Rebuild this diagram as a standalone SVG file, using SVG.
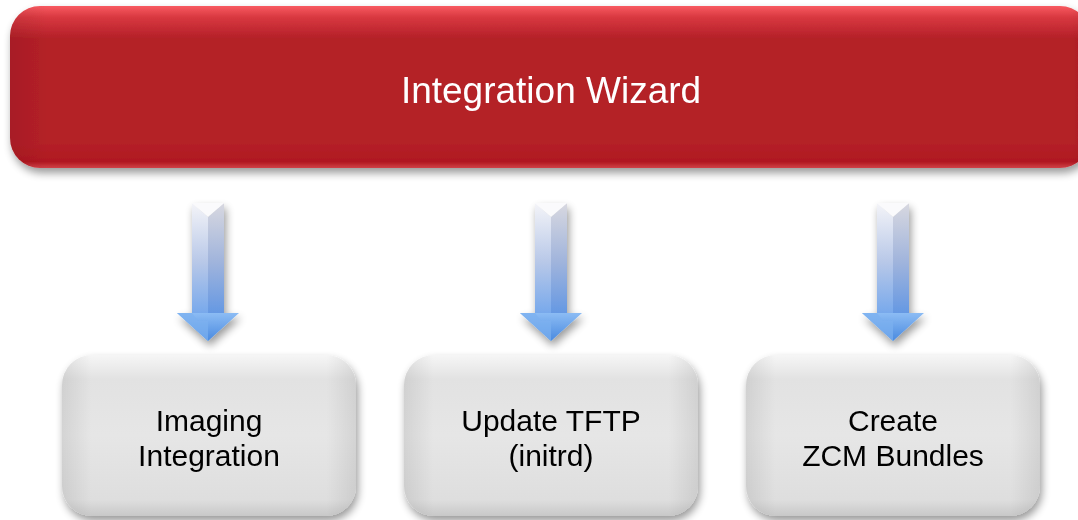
<svg xmlns="http://www.w3.org/2000/svg" width="1078" height="520" viewBox="0 0 1078 520">
<style>
.title{font-family:"Liberation Sans",Arial,sans-serif;font-size:37px;fill:#ffffff;text-anchor:middle}
.lbl{font-family:"Liberation Sans",Arial,sans-serif;font-size:30px;fill:#000000;text-anchor:middle}
</style>
<defs>
<filter id="sh" x="-5%" y="-10%" width="110%" height="130%">
<feGaussianBlur in="SourceAlpha" stdDeviation="4"/>
<feOffset dx="2" dy="5" result="b"/>
<feComponentTransfer><feFuncA type="linear" slope="0.4"/></feComponentTransfer>
<feMerge><feMergeNode/><feMergeNode in="SourceGraphic"/></feMerge>
</filter>
<linearGradient id="red" x1="0" y1="0" x2="0" y2="1">
<stop offset="0" stop-color="#f85a60"/>
<stop offset="0.07" stop-color="#d83840"/>
<stop offset="0.2" stop-color="#b42028"/>
<stop offset="0.85" stop-color="#b42028"/>
<stop offset="0.96" stop-color="#b01820"/>
<stop offset="1" stop-color="#d04048"/>
</linearGradient>
<linearGradient id="redside" x1="0" y1="0" x2="1" y2="0">
<stop offset="0" stop-color="#000" stop-opacity="0.07"/>
<stop offset="0.035" stop-color="#000" stop-opacity="0"/>
<stop offset="0.98" stop-color="#000" stop-opacity="0"/>
<stop offset="1" stop-color="#000" stop-opacity="0.05"/>
</linearGradient>
<linearGradient id="gray" x1="0" y1="0" x2="0" y2="1">
<stop offset="0" stop-color="#f6f6f6"/>
<stop offset="0.15" stop-color="#e2e2e2"/>
<stop offset="0.5" stop-color="#e6e6e6"/>
<stop offset="0.9" stop-color="#dedede"/>
<stop offset="1" stop-color="#c8c8c8"/>
</linearGradient>
<linearGradient id="grayside" x1="0" y1="0" x2="1" y2="0">
<stop offset="0" stop-color="#000" stop-opacity="0.08"/>
<stop offset="0.1" stop-color="#000" stop-opacity="0"/>
<stop offset="0.9" stop-color="#000" stop-opacity="0"/>
<stop offset="1" stop-color="#000" stop-opacity="0.08"/>
</linearGradient>
<linearGradient id="shaftL" x1="0" y1="0" x2="0" y2="1">
<stop offset="0" stop-color="#f4f4f8"/>
<stop offset="0.5" stop-color="#b8c8e8"/>
<stop offset="1" stop-color="#6ea4ec"/>
</linearGradient>
<linearGradient id="shaftR" x1="0" y1="0" x2="0" y2="1">
<stop offset="0" stop-color="#d8d8e0"/>
<stop offset="0.5" stop-color="#a0b4dc"/>
<stop offset="1" stop-color="#5c94e4"/>
</linearGradient>
<linearGradient id="head" x1="0" y1="0" x2="0" y2="1">
<stop offset="0" stop-color="#8cbcf4"/>
<stop offset="1" stop-color="#4a8ae0"/>
</linearGradient>
<g id="arrow">
<polygon points="-16,0 0,14 0,118 -16,110" fill="url(#shaftL)"/>
<polygon points="16,0 0,14 0,118 16,110" fill="url(#shaftR)"/>
<polygon points="-16,0 16,0 0,14" fill="#fafafc"/>
<polygon points="-31,110 31,110 0,138" fill="url(#head)"/>
<polygon points="-31,110 -16,110 -10,118 0,118 0,138" fill="#7cb0f0" opacity="0.7"/>
</g>
</defs>
<g id="wizard" filter="url(#sh)">
<rect x="10" y="6" width="1080" height="162" rx="30" fill="url(#red)"/>
<rect x="10" y="6" width="1080" height="162" rx="30" fill="url(#redside)"/>
<text class="title" x="551" y="103">Integration Wizard</text>
</g>
<g id="connectors" filter="url(#sh)">
<use href="#arrow" x="208" y="203"/>
<use href="#arrow" x="551" y="203"/>
<use href="#arrow" x="893" y="203"/>
</g>
<g id="imaging" filter="url(#sh)">
<rect x="62" y="355" width="294" height="161" rx="30" fill="url(#gray)"/>
<rect x="62" y="355" width="294" height="161" rx="30" fill="url(#grayside)"/>
<text class="lbl" x="209" y="431">Imaging</text>
<text class="lbl" x="209" y="466">Integration</text>
</g>
<g id="tftp" filter="url(#sh)">
<rect x="404" y="355" width="294" height="161" rx="30" fill="url(#gray)"/>
<rect x="404" y="355" width="294" height="161" rx="30" fill="url(#grayside)"/>
<text class="lbl" x="551" y="431">Update TFTP</text>
<text class="lbl" x="551" y="466">(initrd)</text>
</g>
<g id="zcm" filter="url(#sh)">
<rect x="746" y="355" width="294" height="161" rx="30" fill="url(#gray)"/>
<rect x="746" y="355" width="294" height="161" rx="30" fill="url(#grayside)"/>
<text class="lbl" x="893" y="431">Create</text>
<text class="lbl" x="893" y="466">ZCM Bundles</text>
</g>
</svg>
